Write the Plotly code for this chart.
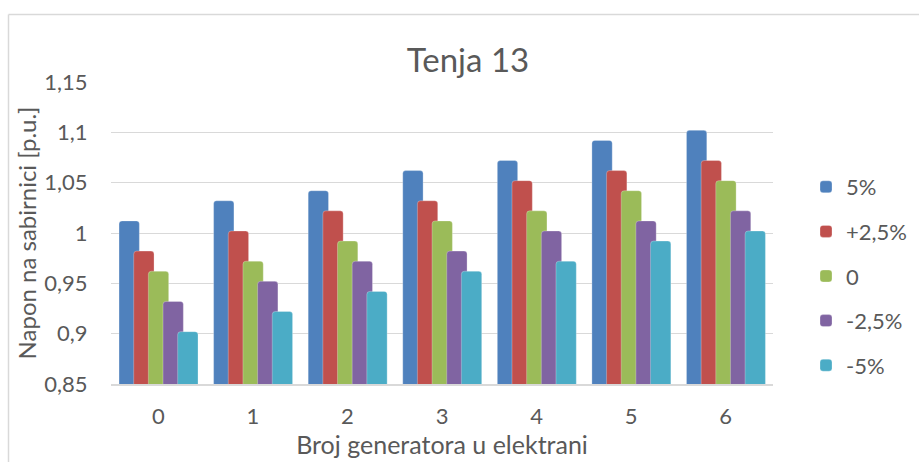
import plotly.graph_objects as go

categories = ["0", "1", "2", "3", "4", "5", "6"]
series_names = ["5%", "+2,5%", "0", "-2,5%", "-5%"]
s_plus5 = [1.012, 1.032, 1.042, 1.062, 1.072, 1.092, 1.102]
s_plus25 = [0.982, 1.002, 1.022, 1.032, 1.052, 1.062, 1.072]
s_zero = [0.962, 0.972, 0.992, 1.012, 1.022, 1.042, 1.052]
s_minus25 = [0.932, 0.952, 0.972, 0.982, 1.002, 1.012, 1.022]
s_minus5 = [0.902, 0.922, 0.942, 0.962, 0.972, 0.992, 1.002]
y_tickvals = [0.85, 0.9, 0.95, 1.0, 1.05, 1.1, 1.15]
y_ticktext = ["0,85", "0,9", "0,95", "1", "1,05", "1,1", "1,15"]

colors = ["#4F81BD", "#C0504D", "#9BBB59", "#8064A2", "#4BACC6"]
all_series = [s_plus5, s_plus25, s_zero, s_minus25, s_minus5]

FONT = "Lato"
TXT = "#595959"
W, H = 919, 462
ML, MR, MT, MB = 111, 146, 82, 78
PW = W - ML - MR
PH = H - MT - MB

fig = go.Figure()
xs = list(range(len(categories)))
step = 0.155
bw = 0.215
start = -0.415
for i, (name, vals) in enumerate(zip(series_names, all_series)):
    fig.add_trace(go.Bar(
        x=xs, y=vals, name=name,
        width=bw, offset=start + i * step,
        marker=dict(color=colors[i], cornerradius=3,
                    line=dict(color="rgba(255,255,255,0.35)", width=0.8)),
        legendgroup=name,
    ))

def px_x(p):
    return (p - ML) / PW

def px_y(p):
    return (H - MB - p) / PH

# chart outer border (top and left visible)
fig.add_shape(type="line", xref="paper", yref="paper",
              x0=px_x(8.5), x1=px_x(925), y0=px_y(14.5), y1=px_y(14.5),
              line=dict(color="#D9D9D9", width=1.5))
fig.add_shape(type="line", xref="paper", yref="paper",
              x0=px_x(8.5), x1=px_x(8.5), y0=px_y(14.5), y1=px_y(470),
              line=dict(color="#D9D9D9", width=1.5))

fig.update_layout(
    width=W, height=H,
    margin=dict(l=ML, r=MR, t=MT, b=MB, autoexpand=False),
    paper_bgcolor="white", plot_bgcolor="white",
    barmode="overlay",
    font=dict(family=FONT, color=TXT, size=22),
    title=dict(text="Tenja 13", x=(468 - ML) / PW, xref="paper", xanchor="center",
               y=1 - 60 / H, yanchor="middle",
               font=dict(family=FONT, size=33, color=TXT)),
    showlegend=True,
    legend=dict(x=px_x(806), xanchor="left", y=px_y(182 - 16), yanchor="top",
                font=dict(family=FONT, size=22, color=TXT),
                tracegroupgap=13, traceorder="grouped",
                bgcolor="rgba(0,0,0,0)"),
    xaxis=dict(
        range=[-0.5, len(categories) - 0.5],
        tickvals=xs, ticktext=categories,
        showgrid=False, zeroline=False,
        showline=True, linecolor="#D9D9D9", linewidth=1.5,
        layer="above traces", automargin=False,
        ticks="outside", ticklen=12, tickcolor="rgba(0,0,0,0)",
        tickfont=dict(family=FONT, size=22, color=TXT),
        title=dict(text="Broj generatora u elektrani", standoff=6,
                   font=dict(family=FONT, size=25, color=TXT)),
    ),
    yaxis=dict(
        range=[0.85, 1.15],
        tickvals=y_tickvals, ticktext=y_ticktext,
        showgrid=True, gridcolor="#D9D9D9", gridwidth=1.3,
        zeroline=False, showline=False, automargin=False,
        ticks="outside", ticklen=18, tickcolor="rgba(0,0,0,0)",
        tickfont=dict(family=FONT, size=22, color=TXT),
        title=dict(text="Napon na sabirnici [p.u.]", standoff=0,
                   font=dict(family=FONT, size=24, color=TXT)),
    ),
)

fig.write_html("out.html", config={"displayModeBar": False},
               post_script="document.body.style.margin='0';document.body.style.padding='0';")
